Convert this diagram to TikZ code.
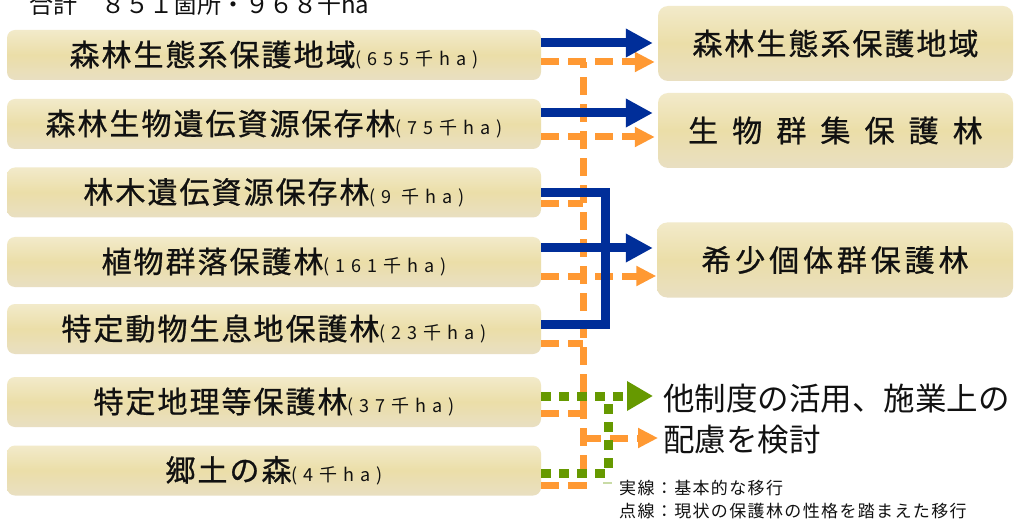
\documentclass[tikz,border=0pt]{standalone}
\usepackage{fontspec}
\setmainfont{Noto Sans CJK JP}
\newfontfamily\jpplain{Noto Sans CJK JP}
\newfontfamily\jpmain[LetterSpace=6.7, FakeBold=0.8]{Noto Sans CJK JP}
\newfontfamily\jpsmall[LetterSpace=33]{Noto Sans CJK JP}
\newfontfamily\jpwideA[LetterSpace=47, FakeBold=0.8]{Noto Sans CJK JP}
\newfontfamily\jpwideB[LetterSpace=13, FakeBold=0.8]{Noto Sans CJK JP}
\newfontfamily\jplegend[LetterSpace=8]{Noto Sans CJK JP}
\usetikzlibrary{arrows.meta}
\definecolor{cblue}{HTML}{002E99}
\definecolor{corange}{HTML}{FF9933}
\definecolor{cgreen}{HTML}{669900}
\definecolor{btop}{HTML}{F2EACA}
\definecolor{bmid}{HTML}{EBDEA8}
\definecolor{bbot}{HTML}{E9DFC2}
\definecolor{ctext}{HTML}{111111}
\newcommand\BoxText[2]{{\fontsize{30}{32}\jpmain #1}{\fontsize{18}{20}\jpsmall #2}}
\begin{document}
\begin{tikzpicture}[x=1pt,y=-1pt,
  lbox/.style={rounded corners=8pt, minimum width=534pt, minimum height=50pt, inner sep=0pt,
    top color=btop, bottom color=bbot, middle color=bmid, draw=none, text=ctext},
  rbox/.style={lbox, minimum width=355pt, minimum height=75pt, rounded corners=10pt},
  blline/.style={draw=cblue, line width=9pt},
  blarrow/.style={blline, -{Triangle[length=27pt,width=27pt]}},
  ordash/.style={draw=corange, line width=7pt, dash pattern=on 18pt off 9pt},
  orarrow/.style={ordash, -{Triangle[length=20pt,width=19pt]}},
  grdot/.style={draw=cgreen, line width=9pt, dash pattern=on 10pt off 8pt},
  grarrow/.style={grdot, -{Triangle[length=26pt,width=28pt]}},
  note/.style={anchor=west, inner sep=0pt, text=ctext}
]
\useasboundingbox (0,0) rectangle (1019,521);
\fill[white] (0,0) rectangle (1019,521);
\clip (0,0) rectangle (1019,521);

% title
\node[note] (title) at (29,4) {\fontsize{24}{26}\jpplain 合計　８５１箇所・９６８千ha};

% left boxes
\node[lbox] (b1) at (274,55)    {\BoxText{森林生態系保護地域}{(655千ha)}};
\node[lbox] (b2) at (274,124)   {\BoxText{森林生物遺伝資源保存林}{(75千ha)}};
\node[lbox] (b3) at (274,192.5) {\BoxText{林木遺伝資源保存林}{(9 千ha)}};
\node[lbox] (b4) at (274,262)   {\BoxText{植物群落保護林}{(161千ha)}};
\node[lbox] (b5) at (274,329)   {\BoxText{特定動物生息地保護林}{(23千ha)}};
\node[lbox] (b6) at (274,402)   {\BoxText{特定地理等保護林}{(37千ha)}};
\node[lbox] (b7) at (274,470.5) {\BoxText{郷土の森}{(4千ha)}};

% right boxes
\node[rbox] (r1) at (835.5,43.5) {\fontsize{30}{32}\jpmain 森林生態系保護地域};
\node[rbox] (r2) at (835.5,130.5) {\fontsize{30}{32}\jpwideA 生物群集保護林};
\node[rbox, minimum width=356pt] (r3) at (835,260) {\fontsize{30}{32}\jpwideB 希少個体群保護林};

% right texts
\node[note] (t1) at (663,399) {\fontsize{31.5}{34}\jpplain 他制度の活用、施業上の};
\node[note] (t2) at (663,440) {\fontsize{31.5}{34}\jpplain 配慮を検討};
\node[note] (l1) at (619,488) {\fontsize{17}{19}\jplegend 実線：基本的な移行};
\node[note] (l2) at (619,511) {\fontsize{17}{19}\jplegend 点線：現状の保護林の性格を踏まえた移行};

% junction columns
\coordinate (ov) at (583,62);
\coordinate (bv) at (605,0);
\coordinate (gv) at (608,0);
\coordinate (obr) at (583,438);

% start points
\coordinate (s1) at ([yshift=12pt]b1.east);
\coordinate (o1) at ([yshift=-7pt]b1.east);
\coordinate (s2) at ([yshift=11pt]b2.east);
\coordinate (o2) at ([yshift=-13pt]b2.east);
\coordinate (s3) at ([yshift=-0.5pt]b3.east);
\coordinate (o3) at ([yshift=-11.5pt]b3.east);
\coordinate (s4) at ([yshift=14pt]b4.east);
\coordinate (o4) at ([yshift=-14pt]b4.east);
\coordinate (s5) at ([yshift=5pt]b5.east);
\coordinate (o5) at ([yshift=-14pt]b5.east);
\coordinate (g6) at ([yshift=6pt]b6.east);
\coordinate (o6) at ([yshift=-11pt]b6.east);
\coordinate (g7) at ([yshift=-2.5pt]b7.east);
\coordinate (o7) at ([yshift=-14.5pt]b7.east);

% orange dashed connectors
\draw[ordash] (o7) -- (o7 -| ov) -- (ov);
\draw[ordash] (o3) -- (o3 -| ov);
\draw[ordash] (o5) -- (o5 -| ov);
\draw[ordash] (o6) -- (o6 -| ov);
\draw[orarrow, shorten >=3pt] (o1) -- (o1 -| r1.west);
\draw[orarrow, shorten >=3pt] (o2) -- (o2 -| r2.west);
\draw[orarrow, shorten >=0.5pt] (o4) -- (o4 -| r3.west);
\draw[orarrow, shorten >=5pt] (obr) -- (obr -| t2.west);

% green dotted connectors
\draw[grdot] (g7) -- (g7 -| gv) -- (g6 -| gv);
\draw[grarrow, shorten >=10pt] (g6) -- (g6 -| t1.west);
\draw[draw=cgreen!35, line width=1.5pt] (603,483) -- (612,483);

% blue solid connectors
\draw[blarrow, shorten >=5pt] (s1) -- (s1 -| r1.west);
\draw[blarrow, shorten >=5pt] (s2) -- (s2 -| r2.west);
\draw[blline] (s3) -- (s3 -| bv) -- (s5 -| bv) -- (s5);
\draw[blarrow, shorten >=4pt] (s4) -- (s4 -| r3.west);
\end{tikzpicture}
\end{document}
